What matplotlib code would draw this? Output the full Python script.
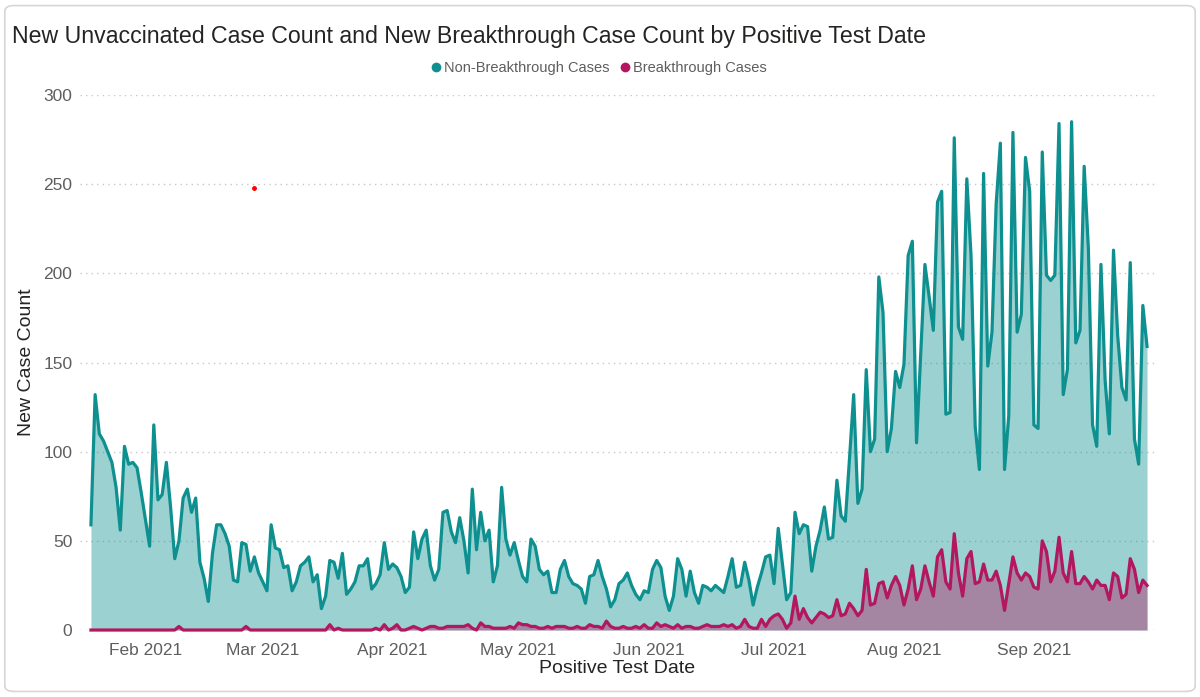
import matplotlib
matplotlib.use("Agg")
import matplotlib.pyplot as plt
import matplotlib.dates as mdates
from matplotlib.lines import Line2D
from matplotlib.patches import FancyBboxPatch
import pandas as pd

start_date = "2021-01-19"

non_breakthrough = [
    59, 132, 110, 106, 100, 94, 80, 56, 103, 93, 94, 91, 77, 62, 47, 115, 73, 76, 94, 69,
    40, 50, 74, 79, 66, 74, 38, 29, 16, 43, 59, 59, 54, 47, 28, 27, 49, 48, 33, 41,
    32, 27, 22, 59, 46, 45,
    35, 36, 22, 27, 36, 38, 41, 27, 31, 12, 19, 39, 38, 29, 43, 20, 23, 27, 36, 36,
    40, 23, 26, 31, 49, 34, 37, 35, 30, 21, 24, 55, 40, 51, 56, 36, 28, 34, 66, 67,
    55, 49, 63,
    50, 32, 79, 45, 66, 50, 56, 27, 36, 80, 51, 42, 49, 39, 30, 27, 51, 47, 34, 31,
    33, 21, 21, 34, 39, 30, 26, 25, 23, 15, 30, 31, 39, 30, 23, 13, 17, 26, 28, 32,
    25, 20, 17, 22, 21, 34, 39,
    35, 19, 11, 19, 40, 34, 19, 33, 21, 15, 25, 24, 22, 25, 23, 21, 30, 40, 24, 25,
    38, 28, 14, 24, 32, 41, 42, 26, 57, 37, 17, 21, 66, 54, 59, 58, 33, 47, 56, 69,
    51, 52, 84, 64, 61, 96,
    132, 71, 79, 146, 100, 107, 198, 178, 100, 113, 145, 136, 149, 210, 218, 105,
    155, 205, 187, 168, 240, 246, 121, 122, 276, 170, 163, 253, 210, 114, 90, 256,
    148, 167, 239, 273, 90, 120, 279, 167, 177, 265, 246, 115, 113, 268, 199, 196,
    199, 284, 132, 146, 285, 161, 168, 260, 214, 115, 103, 205, 140, 110, 213, 165,
    136, 129, 206, 107, 93, 182, 159,
]

breakthrough = [
    0, 0, 0, 0, 0, 0, 0, 0, 0, 0, 0, 0, 0, 0, 0, 0, 0, 0, 0, 0,
    0, 2, 0, 0, 0, 0, 0, 0, 0, 0, 0, 0, 0, 0, 0, 0, 0, 2, 0, 0,
    0, 0, 0, 0, 0, 0,
    0, 0, 0, 0, 0, 0, 0, 0, 0, 0, 0, 3, 0, 1, 0, 0, 0, 0, 0, 0,
    0, 0, 1, 0, 3, 0, 1, 3, 0, 0, 1, 2, 1, 0, 1, 2, 2, 1, 1, 2,
    2, 2, 2,
    2, 3, 1, 0, 4, 2, 2, 1, 1, 1, 1, 2, 1, 4, 3, 3, 2, 2, 1, 1,
    2, 1, 2, 2, 2, 1, 1, 2, 1, 1, 3, 2, 2, 1, 5, 2, 1, 1, 2, 1,
    1, 2, 1, 3, 1, 1, 4,
    2, 3, 2, 1, 3, 1, 2, 2, 1, 1, 2, 3, 2, 2, 2, 3, 2, 3, 1, 2,
    6, 2, 1, 1, 6, 2, 6, 8, 9, 6, 1, 4, 19, 6, 12, 7, 4, 7, 10, 9,
    7, 8, 17, 8, 9, 15,
    12, 8, 11, 34, 14, 15, 26, 27, 18, 25, 30, 25, 14, 23, 36, 17,
    23, 36, 27, 19, 41, 45, 27, 23, 54, 32, 19, 40, 44, 26, 27, 37,
    28, 28, 33, 25, 11, 26, 41, 32, 28, 32, 30, 24, 23, 50, 44, 27,
    33, 52, 32, 27, 44, 26, 26, 30, 27, 23, 28, 25, 25, 17, 32, 30,
    18, 20, 40, 34, 21, 28, 25,
]

# stray red dot in the original screenshot
dot_date = ["2021-02-27"]
dot_value = [248]

dates = pd.date_range(start_date, periods=len(non_breakthrough), freq="D")

teal = "#0E9090"
magenta = "#B3175F"
gray_text = "#605E5C"
dark_text = "#252423"

plt.rcParams["font.family"] = ["Liberation Sans", "DejaVu Sans"]

fig = plt.figure(figsize=(12, 6.97), dpi=100)
fig.patches.append(FancyBboxPatch((0.004, 0.008), 0.992, 0.984,
                                  boxstyle="round,pad=0,rounding_size=0.008",
                                  transform=fig.transFigure, fill=False,
                                  edgecolor="#D6D6D6", linewidth=1.2))

ax = fig.add_axes([0.0667, 0.0961, 0.8958, 0.7676])

ax.fill_between(dates, non_breakthrough, 0, color=teal, alpha=0.41, linewidth=0)
ax.plot(dates, non_breakthrough, color=teal, linewidth=2.3, clip_on=False, solid_joinstyle="round")
ax.fill_between(dates, breakthrough, 0, color=magenta, alpha=0.4, linewidth=0)
ax.plot(dates, breakthrough, color=magenta, linewidth=2.3, clip_on=False, solid_joinstyle="round")
ax.plot(pd.to_datetime(dot_date), dot_value, "o", color="red", markersize=2.5)

x0 = mdates.date2num(dates[0]) - 2.6
x1 = mdates.date2num(dates[-1]) + 1.9
ax.set_xlim(x0, x1)
ax.set_ylim(0, 300)
ax.set_yticks([0, 50, 100, 150, 200, 250, 300])
ax.yaxis.grid(True, linestyle=(0, (1, 3)), color="#C8C8C8", linewidth=1)
ax.set_axisbelow(True)

ax.xaxis.set_major_locator(mdates.MonthLocator())
ax.xaxis.set_major_formatter(mdates.DateFormatter("%b %Y"))

for s in ax.spines.values():
    s.set_visible(False)
ax.tick_params(axis="both", length=0, labelsize=12.5, labelcolor=gray_text)
ax.tick_params(axis="y", pad=5.5)
ax.tick_params(axis="x", pad=9)

ax.set_ylabel("New Case Count", fontsize=14, color=dark_text)
ax.yaxis.set_label_coords(-0.042, 0.5)
ax.set_xlabel("Positive Test Date", fontsize=14, color=dark_text, labelpad=2)

fig.text(0.010, 0.947, "New Unvaccinated Case Count and New Breakthrough Case Count by Positive Test Date",
         fontsize=16.7, color=dark_text, ha="left", va="center")

handles = [Line2D([], [], marker="o", linestyle="", color=teal, markersize=6),
           Line2D([], [], marker="o", linestyle="", color=magenta, markersize=6)]
leg = fig.legend(handles, ["Non-Breakthrough Cases", "Breakthrough Cases"], loc="center",
                 bbox_to_anchor=(0.498, 0.902), ncol=2, frameon=False, fontsize=10.5,
                 handletextpad=0.05, columnspacing=0.6, handlelength=1.0)
for t in leg.get_texts():
    t.set_color(gray_text)

fig.savefig("out.png", dpi=100, facecolor="white")
